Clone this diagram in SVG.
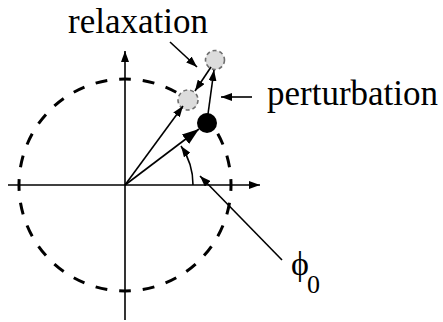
<svg xmlns="http://www.w3.org/2000/svg" width="443" height="322" viewBox="0 0 443 322">
<style>
.ln{stroke:#000;stroke-width:1.6;fill:none}
.ghost{fill:#dcdcdc;stroke:#6e6e6e;stroke-width:1.6;stroke-dasharray:4 3}
</style>
<defs>
<marker id="ah" markerUnits="userSpaceOnUse" markerWidth="11" markerHeight="8" refX="11" refY="4" orient="auto">
<path d="M0,0 L11,4 L0,8 z" fill="#000"/>
</marker>
<marker id="big" markerUnits="userSpaceOnUse" markerWidth="17" markerHeight="12" refX="17" refY="6" orient="auto">
<path d="M0,0 L17,6 L0,12 z" fill="#000"/>
</marker>
</defs>
<rect width="443" height="322" fill="#fff"/>
<g id="orbit">
<circle cx="125" cy="185" r="106" fill="none" stroke="#000" stroke-width="3" pathLength="672" stroke-dasharray="12 12" stroke-dashoffset="6"/>
</g>
<g id="axes">
<line class="ln" x1="8" y1="185" x2="260" y2="185" marker-end="url(#ah)"/>
<line class="ln" x1="125" y1="320" x2="125" y2="51" marker-end="url(#ah)"/>
</g>
<g id="state-relaxed-upper">
<circle class="ghost" cx="215" cy="60" r="9.5"/>
</g>
<g id="state-relaxed-lower">
<circle class="ghost" cx="188" cy="100" r="10"/>
</g>
<g id="state-current">
<circle cx="207" cy="123" r="10" fill="#000"/>
</g>
<g id="connectors">
<line class="ln" x1="125" y1="185" x2="183" y2="106" marker-end="url(#ah)"/>
<line class="ln" x1="125" y1="185" x2="199" y2="129" marker-end="url(#big)"/>
<line class="ln" x1="208" y1="114" x2="214" y2="70" marker-end="url(#ah)"/>
<line class="ln" x1="211" y1="67" x2="195" y2="91" marker-end="url(#ah)"/>
<line class="ln" x1="170" y1="42" x2="197" y2="67" marker-end="url(#ah)"/>
<line class="ln" x1="252" y1="97" x2="221" y2="97" marker-end="url(#ah)"/>
<line class="ln" x1="282" y1="260" x2="200" y2="176" marker-end="url(#ah)"/>
<path class="ln" d="M193,185 A68,68 0 0 0 181,146" marker-end="url(#ah)"/>
</g>
<g id="label-relaxation"><text font-family="'Liberation Serif', 'DejaVu Serif', 'Times New Roman', serif" x="68" y="33" font-size="35" fill="#000">relaxation</text></g>
<g id="label-perturbation"><text font-family="'Liberation Serif', 'DejaVu Serif', 'Times New Roman', serif" x="267" y="105" font-size="35" fill="#000">perturbation</text></g>
<g id="label-phi0"><text font-family="'Liberation Serif', 'DejaVu Serif', 'Times New Roman', serif" x="291" y="275" font-size="34" fill="#000">ϕ<tspan x="307" y="293" font-size="26">0</tspan></text></g>
</svg>
